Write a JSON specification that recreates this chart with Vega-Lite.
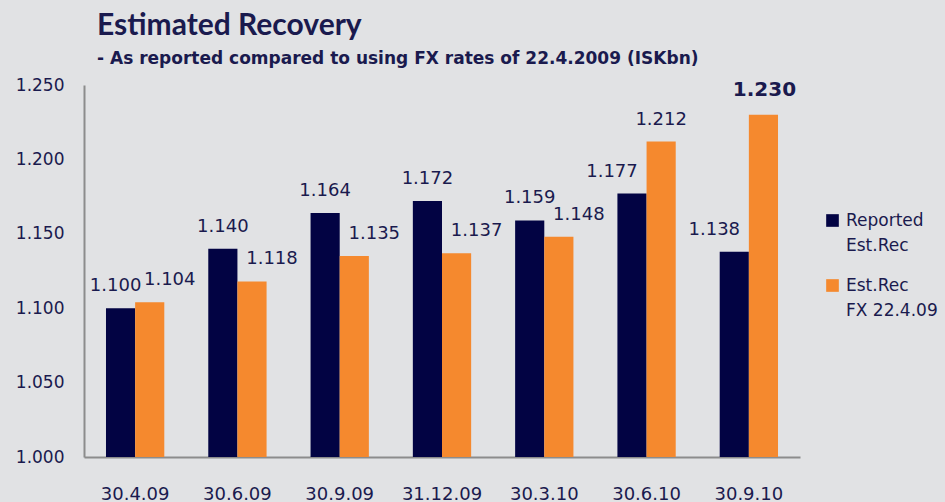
{
  "$schema": "https://vega.github.io/schema/vega-lite/v6.json",
  "autosize": "none",
  "width": 716,
  "height": 372,
  "padding": {"left": 84, "top": 85, "right": 145, "bottom": 45},
  "background": "#e1e2e4",
  "title": {
    "text": "Estimated Recovery",
    "subtitle": "- As reported compared to using FX rates of 22.4.2009 (ISKbn)",
    "anchor": "start",
    "frame": "group",
    "dx": 13,
    "offset": 9,
    "font": "Lato",
    "fontSize": 30,
    "fontWeight": "bold",
    "color": "#1a1a4e",
    "subtitleFont": "DejaVu Sans",
    "subtitleFontSize": 17,
    "subtitleFontWeight": "bold",
    "subtitleColor": "#1a1a4e",
    "subtitlePadding": 10
  },
  "config": {
    "view": {"stroke": null},
    "font": "DejaVu Sans",
    "style": {"guide-label": {"lineHeight": 25}}
  },
  "data": {
    "values": [
      {"date": "30.4.09", "Reported": 1.100, "FX": 1.104},
      {"date": "30.6.09", "Reported": 1.140, "FX": 1.118},
      {"date": "30.9.09", "Reported": 1.164, "FX": 1.135},
      {"date": "31.12.09", "Reported": 1.172, "FX": 1.137},
      {"date": "30.3.10", "Reported": 1.159, "FX": 1.148},
      {"date": "30.6.10", "Reported": 1.177, "FX": 1.212},
      {"date": "30.9.10", "Reported": 1.138, "FX": 1.230}
    ]
  },
  "transform": [
    {"fold": ["Reported", "FX"], "as": ["series", "value"]}
  ],
  "encoding": {
    "x": {
      "field": "date",
      "type": "nominal",
      "sort": null,
      "scale": {"paddingInner": 0.43, "paddingOuter": 0.215},
      "axis": {
        "title": null,
        "labelAngle": 0,
        "ticks": false,
        "domainColor": "#8c8c8c",
        "domainWidth": 2,
        "labelPadding": 28,
        "labelFontSize": 18,
        "labelColor": "#1a1a4e",
        "labelFont": "DejaVu Sans"
      }
    },
    "xOffset": {"field": "series", "type": "nominal", "sort": ["Reported", "FX"], "scale": {"domain": ["Reported", "FX"]}},
    "y": {
      "field": "value",
      "type": "quantitative",
      "scale": {"domain": [1.0, 1.25], "zero": false, "nice": false},
      "axis": {
        "title": null,
        "values": [1.0, 1.05, 1.1, 1.15, 1.2, 1.25],
        "format": ".3f",
        "grid": false,
        "ticks": false,
        "domainColor": "#8c8c8c",
        "domainWidth": 2,
        "labelPadding": 20,
        "labelFontSize": 17,
        "labelColor": "#1a1a4e",
        "labelFont": "DejaVu Sans"
      }
    }
  },
  "layer": [
    {
      "mark": {"type": "bar", "clip": true},
      "encoding": {
        "color": {
          "field": "series",
          "type": "nominal",
          "scale": {"domain": ["Reported", "FX"], "range": ["#020343", "#f5892e"]},
          "legend": {
            "title": null,
            "orient": "none",
            "legendX": 740,
            "legendY": 127,
            "symbolType": "square",
            "symbolSize": 160,
            "symbolOpacity": 1,
            "symbolStrokeWidth": 0,
            "labelFontSize": 17,
            "labelFont": "DejaVu Sans",
            "labelColor": "#1a1a4e",
            "labelLimit": 200,
            "labelOffset": 5,
            "rowPadding": 22,
            "labelExpr": "datum.label == 'Reported' ? ['Reported', 'Est.Rec'] : ['Est.Rec', 'FX 22.4.09']"
          }
        }
      }
    },
    {
      "transform": [{"filter": "datum.series == 'Reported' && datum.FX <= datum.Reported"}],
      "mark": {"type": "text", "baseline": "alphabetic", "dy": -17, "dx": 0, "color": "#1a1a4e", "font": "DejaVu Sans", "fontSize": 18},
      "encoding": {"text": {"field": "value", "type": "quantitative", "format": ".3f"}}
    },
    {
      "transform": [{"filter": "datum.series == 'Reported' && datum.FX > datum.Reported && datum.FX <= datum.Reported + 0.01"}],
      "mark": {"type": "text", "baseline": "alphabetic", "dy": -17, "dx": -5, "color": "#1a1a4e", "font": "DejaVu Sans", "fontSize": 18},
      "encoding": {"text": {"field": "value", "type": "quantitative", "format": ".3f"}}
    },
    {
      "transform": [{"filter": "datum.series == 'Reported' && datum.FX > datum.Reported + 0.01"}],
      "mark": {"type": "text", "baseline": "alphabetic", "dy": -17, "dx": -20, "color": "#1a1a4e", "font": "DejaVu Sans", "fontSize": 18},
      "encoding": {"text": {"field": "value", "type": "quantitative", "format": ".3f"}}
    },
    {
      "transform": [{"filter": "datum.series == 'FX' && datum.FX <= datum.Reported + 0.01"}],
      "mark": {"type": "text", "baseline": "alphabetic", "dy": -17, "dx": 20, "color": "#1a1a4e", "font": "DejaVu Sans", "fontSize": 18},
      "encoding": {"text": {"field": "value", "type": "quantitative", "format": ".3f"}}
    },
    {
      "transform": [{"filter": "datum.series == 'FX' && datum.FX > datum.Reported + 0.01 && datum.date != '30.9.10'"}],
      "mark": {"type": "text", "baseline": "alphabetic", "dy": -17, "dx": 0, "color": "#1a1a4e", "font": "DejaVu Sans", "fontSize": 18},
      "encoding": {"text": {"field": "value", "type": "quantitative", "format": ".3f"}}
    },
    {
      "transform": [{"filter": "datum.series == 'FX' && datum.date == '30.9.10'"}],
      "mark": {"type": "text", "baseline": "alphabetic", "dy": -19, "dx": 1, "color": "#1a1a4e", "font": "DejaVu Sans", "fontSize": 20, "fontWeight": "bold"},
      "encoding": {"text": {"field": "value", "type": "quantitative", "format": ".3f"}}
    }
  ]
}
